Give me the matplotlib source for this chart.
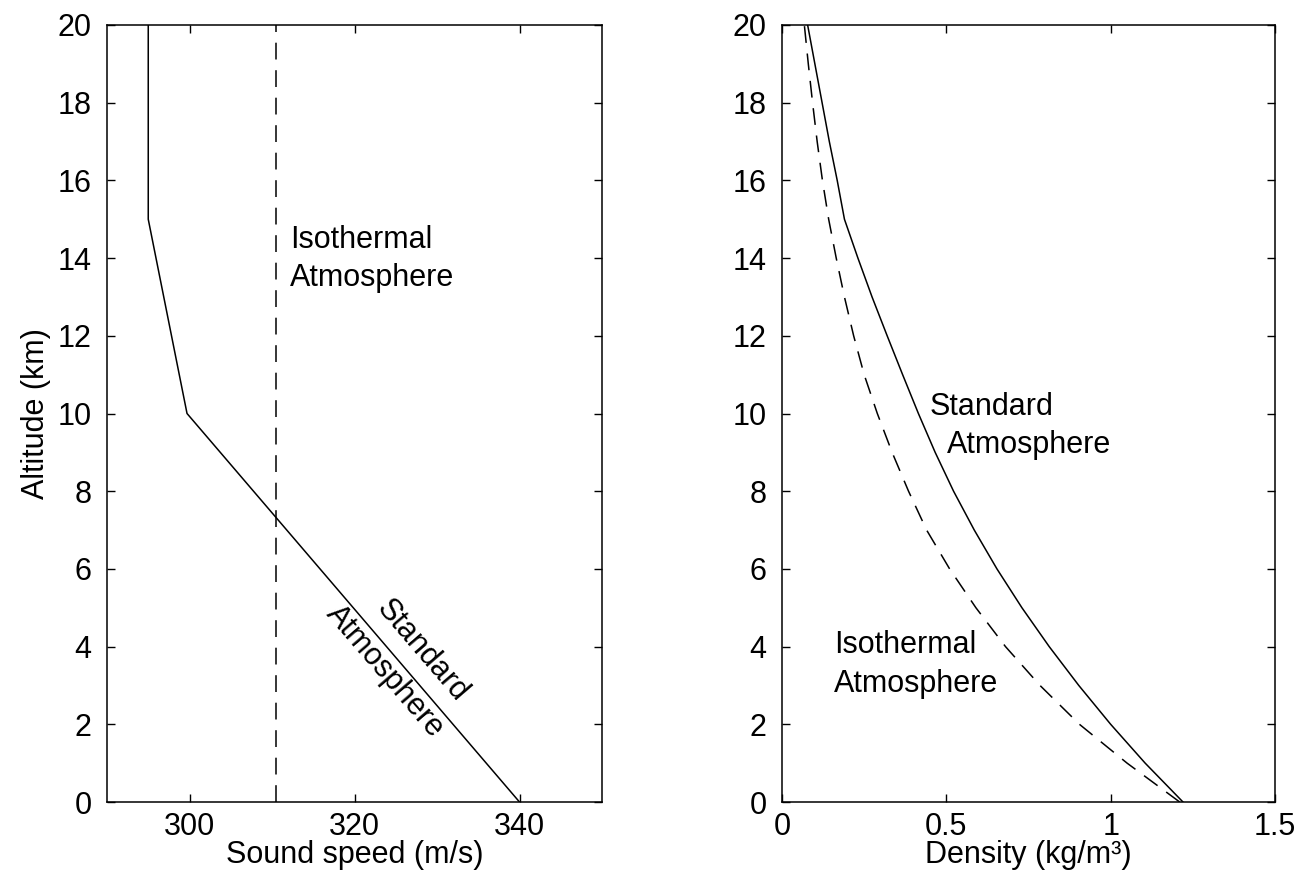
import matplotlib
matplotlib.use("Agg")
import matplotlib.pyplot as plt

plt.rcParams['font.family'] = ['Liberation Sans', 'DejaVu Sans']

# sound speed, standard atmosphere (piecewise)
alt_std_c = [0, 10, 15, 20]
c_std = [340, 299.7, 295, 295]

# sound speed, isothermal atmosphere
alt_iso_c = [0, 20]
c_iso = [310.5, 310.5]

# density, every km
alt_rho = [0, 1, 2, 3, 4, 5, 6, 7, 8, 9, 10,
           11, 12, 13, 14, 15, 16, 17, 18, 19, 20]
rho_std = [1.22, 1.105, 1.0, 0.903, 0.813, 0.73, 0.654, 0.585, 0.522, 0.466, 0.415,
           0.367, 0.32, 0.274, 0.231, 0.19, 0.168, 0.144, 0.122, 0.1, 0.078]
rho_iso = [1.21, 1.05, 0.905, 0.785, 0.68, 0.59, 0.51, 0.44, 0.385, 0.335, 0.29,
           0.25, 0.218, 0.19, 0.165, 0.142, 0.123, 0.107, 0.093, 0.08, 0.068]

alt_ticks = [0, 2, 4, 6, 8, 10, 12, 14, 16, 18, 20]
c_ticks = [300, 320, 340]
rho_ticks = [0, 0.5, 1, 1.5]
rho_ticklabels = ['0', '0.5', '1', '1.5']

FS = 22
DASH = (11, 7)

fig = plt.figure(figsize=(13.09, 8.81), dpi=100)
ax1 = fig.add_axes([107 / 1309, 79 / 881, 495 / 1309, 777 / 881])
ax2 = fig.add_axes([782 / 1309, 79 / 881, 493 / 1309, 777 / 881])

for ax in (ax1, ax2):
    ax.tick_params(direction='in', top=True, right=True, length=6, width=1,
                   labelsize=FS)
    ax.tick_params(axis='y', pad=11)
    ax.tick_params(axis='x', pad=7)
    for sp in ax.spines.values():
        sp.set_linewidth(1.1)
    ax.set_ylim(0, 20)
    ax.set_yticks(alt_ticks)

# left: sound speed
ax1.plot(c_std, alt_std_c, color='black', lw=1.1)
ax1.plot(c_iso, alt_iso_c, color='black', lw=1.1, linestyle=(0, DASH))
ax1.set_xlim(290, 350)
ax1.set_xticks(c_ticks)
ax1.set_xlabel('Sound speed (m/s)', fontsize=FS, labelpad=-1)
ax1.set_ylabel('Altitude (km)', fontsize=FS, labelpad=5)

ax1.text(312.2, 14.26, 'Isothermal', fontsize=FS, ha='left', va='baseline')
ax1.text(312.2, 13.28, 'Atmosphere', fontsize=FS, ha='left', va='baseline')
ax1.text(328.15, 3.89, 'Standard', fontsize=FS, ha='center', va='center',
         rotation=-49.3, rotation_mode='anchor')
ax1.text(323.7, 3.35, 'Atmosphere', fontsize=FS, ha='center', va='center',
         rotation=-49.3, rotation_mode='anchor')

# right: density
ax2.plot(rho_std, alt_rho, color='black', lw=1.1)
ax2.plot(rho_iso, alt_rho, color='black', lw=1.1, linestyle=(0, DASH))
ax2.set_xlim(0, 1.5)
ax2.set_xticks(rho_ticks)
ax2.set_xticklabels(rho_ticklabels)
ax2.set_xlabel('Density (kg/m\u00b3)', fontsize=FS, labelpad=-1)

ax2.text(0.448, 9.96, 'Standard', fontsize=FS, ha='left', va='baseline')
ax2.text(0.501, 8.99, 'Atmosphere', fontsize=FS, ha='left', va='baseline')
ax2.text(0.158, 3.83, 'Isothermal', fontsize=FS, ha='left', va='baseline')
ax2.text(0.158, 2.84, 'Atmosphere', fontsize=FS, ha='left', va='baseline')

fig.savefig('out.png', dpi=100)
